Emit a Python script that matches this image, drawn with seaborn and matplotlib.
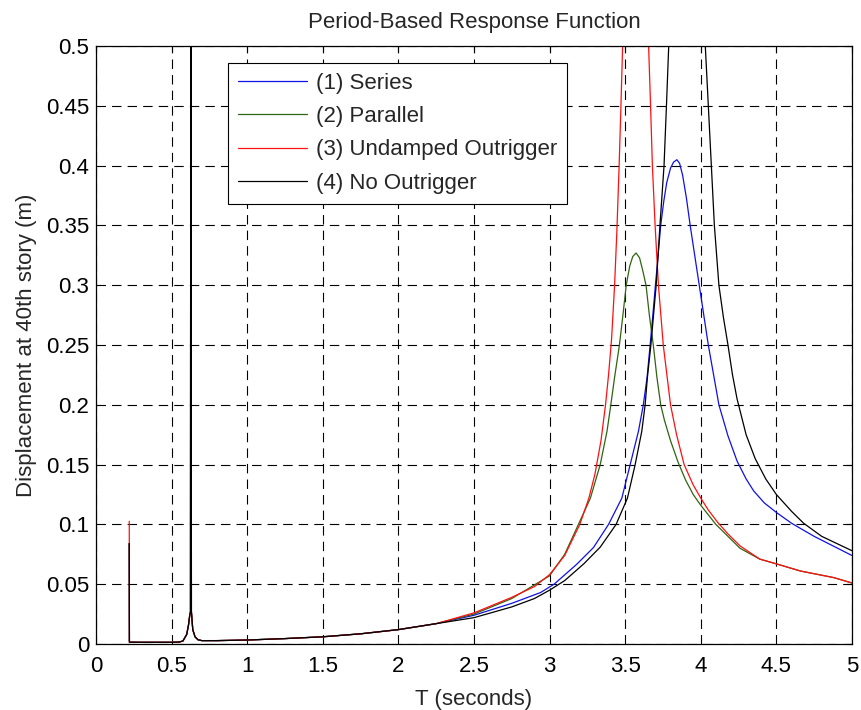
import matplotlib
matplotlib.use("Agg")
import matplotlib.pyplot as plt
import seaborn as sns
import pandas as pd

# ---- data ------------------------------------------------------------------
# low-period part is the same for every model (first value = start spike)
t_low = [0.220, 0.221, 0.30, 0.40, 0.50, 0.55, 0.575, 0.60, 0.612, 0.620, 0.625,
         0.628, 0.631, 0.640, 0.655, 0.675, 0.70, 0.80, 1.00, 1.25, 1.50, 1.75,
         2.00, 2.25]
d_low = [0.084, 0.0015, 0.0014, 0.0014, 0.0014, 0.0016, 0.0025, 0.008, 0.016,
         0.024, 0.027, 1.0, 0.027, 0.012, 0.006, 0.0035, 0.0028, 0.0028, 0.0033,
         0.0045, 0.006, 0.0085, 0.012, 0.017]
red_start = 0.1026

t_series = [2.5, 2.75, 2.94, 3.03, 3.18, 3.29, 3.39, 3.478, 3.533, 3.588, 3.62,
            3.645, 3.665, 3.683, 3.70, 3.718, 3.735, 3.755, 3.775, 3.80, 3.82,
            3.842, 3.86, 3.88, 3.905, 3.93, 3.96, 3.99, 4.02, 4.05, 4.085, 4.12,
            4.18, 4.24, 4.30, 4.35, 4.42, 4.5, 4.6, 4.75, 5.0]
d_series = [0.024, 0.034, 0.043, 0.05, 0.0667, 0.0806, 0.1, 0.122, 0.15, 0.178,
            0.2, 0.223, 0.25, 0.275, 0.30, 0.325, 0.35, 0.37, 0.386, 0.398,
            0.403, 0.405, 0.402, 0.392, 0.373, 0.35, 0.325, 0.30, 0.275, 0.25,
            0.225, 0.20, 0.174, 0.153, 0.138, 0.128, 0.118, 0.11, 0.101, 0.09,
            0.074]

t_parallel = [2.5, 2.75, 3.0, 3.1, 3.18, 3.27, 3.335, 3.38, 3.405, 3.43, 3.462,
              3.485, 3.507, 3.53, 3.55, 3.572, 3.595, 3.615, 3.638, 3.66, 3.686,
              3.71, 3.735, 3.76, 3.80, 3.85, 3.90, 3.95, 4.0, 4.05, 4.1, 4.18,
              4.26, 4.39, 4.5, 4.66, 4.88, 5.0]
d_parallel = [0.025, 0.038, 0.057, 0.075, 0.097, 0.122, 0.15, 0.178, 0.2, 0.223,
              0.25, 0.275, 0.30, 0.316, 0.324, 0.327, 0.323, 0.313, 0.30, 0.275,
              0.25, 0.223, 0.20, 0.187, 0.17, 0.152, 0.137, 0.125, 0.116, 0.108,
              0.10, 0.09, 0.08, 0.071, 0.067, 0.061, 0.0555, 0.051]

t_undamped = [2.5, 2.75, 2.9, 3.0, 3.1, 3.2, 3.26, 3.3, 3.34, 3.37, 3.39, 3.41,
              3.43, 3.445, 3.46, 3.472, 3.483, 3.56, 3.655, 3.668, 3.68, 3.698,
              3.72, 3.752, 3.80, 3.84, 3.89, 3.95, 4.0, 4.05, 4.11, 4.18, 4.26,
              4.39, 4.5, 4.66, 4.88, 5.0]
d_undamped = [0.026, 0.039, 0.048, 0.058, 0.074, 0.1, 0.122, 0.142, 0.17, 0.2,
              0.225, 0.255, 0.30, 0.345, 0.40, 0.45, 0.50, 3.0, 0.50, 0.45, 0.40,
              0.35, 0.30, 0.25, 0.20, 0.175, 0.15, 0.133, 0.122, 0.112, 0.102,
              0.092, 0.082, 0.071, 0.067, 0.061, 0.0555, 0.051]

t_none = [2.5, 2.75, 2.9, 3.0, 3.1, 3.226, 3.335, 3.44, 3.515, 3.566, 3.61,
          3.632, 3.647, 3.67, 3.705, 3.73, 3.757, 3.773, 3.788, 3.91, 4.03, 4.05,
          4.07, 4.09, 4.12, 4.15, 4.18, 4.21, 4.24, 4.30, 4.36, 4.43, 4.5, 4.6,
          4.68, 4.8, 5.0]
d_none = [0.022, 0.031, 0.038, 0.045, 0.053, 0.067, 0.081, 0.1, 0.122, 0.15,
          0.178, 0.2, 0.223, 0.25, 0.30, 0.35, 0.40, 0.45, 0.50, 2.0, 0.50, 0.45,
          0.40, 0.35, 0.30, 0.273, 0.25, 0.225, 0.205, 0.175, 0.155, 0.138,
          0.125, 0.111, 0.101, 0.09, 0.078]

labels = ["(1) Series", "(2) Parallel", "(3) Undamped Outrigger", "(4) No Outrigger"]
colors = ["#1010e8", "#2f6410", "#ff1010", "#000000"]
x_ticks = [0, 0.5, 1, 1.5, 2, 2.5, 3, 3.5, 4, 4.5, 5]
x_tick_labels = ["0", "0.5", "1", "1.5", "2", "2.5", "3", "3.5", "4", "4.5", "5"]
y_ticks = [0, 0.05, 0.1, 0.15, 0.2, 0.25, 0.3, 0.35, 0.4, 0.45, 0.5]
y_tick_labels = ["0", "0.05", "0.1", "0.15", "0.2", "0.25", "0.3", "0.35", "0.4",
                 "0.45", "0.5"]

# ---- build long table --------------------------------------------------------
parts = []
for lab, t_hi, d_hi, first in [
    (labels[0], t_series, d_series, d_low[0]),
    (labels[1], t_parallel, d_parallel, d_low[0]),
    (labels[2], t_undamped, d_undamped, red_start),
    (labels[3], t_none, d_none, d_low[0]),
]:
    d = [first] + d_low[1:] + d_hi
    t = t_low + t_hi
    parts.append(pd.DataFrame({"T": t, "disp": d, "model": lab}))
df = pd.concat(parts, ignore_index=True)

# ---- plot ----------------------------------------------------------------------
sns.set_style("white")
plt.rcParams["font.family"] = ["Liberation Sans", "DejaVu Sans"]
plt.rcParams["font.size"] = 16

fig = plt.figure(figsize=(8.61, 7.10), dpi=100)
ax = fig.add_axes([0.1115, 0.093, 0.878, 0.842])

sns.lineplot(data=df, x="T", y="disp", hue="model", hue_order=labels,
             palette=colors, estimator=None, sort=False, linewidth=0.9, ax=ax)

ax.set_xlim(0, 5)
ax.set_ylim(0, 0.5)
ax.set_xticks(x_ticks)
ax.set_xticklabels(x_tick_labels)
ax.set_yticks(y_ticks)
ax.set_yticklabels(y_tick_labels)
ax.tick_params(direction="in", length=4, width=0.8, top=True, right=True,
               labelsize=16, colors="black")
ax.tick_params(axis="x", pad=9)
ax.tick_params(axis="y", pad=5)
ax.grid(True, color="black", linestyle=(0, (8.5, 5.5)), linewidth=0.8)
for s in ax.spines.values():
    s.set_color("black")
    s.set_linewidth(0.9)

ax.set_title("Period-Based Response Function", fontsize=16, pad=13)
ax.set_xlabel("T (seconds)", fontsize=16, labelpad=8)
ax.set_ylabel("Displacement at 40th story (m)", fontsize=16, labelpad=6)

handles, labs = ax.get_legend_handles_labels()
leg = ax.legend(handles, labs, loc="upper left", bbox_to_anchor=(0.175, 0.972),
                borderaxespad=0, fontsize=16, handlelength=3.1, handletextpad=0.4,
                labelspacing=0.55, borderpad=0.45, fancybox=False, framealpha=1,
                edgecolor="black")
leg.get_frame().set_linewidth(0.8)

fig.savefig("out.png", dpi=100)
plt.close(fig)
